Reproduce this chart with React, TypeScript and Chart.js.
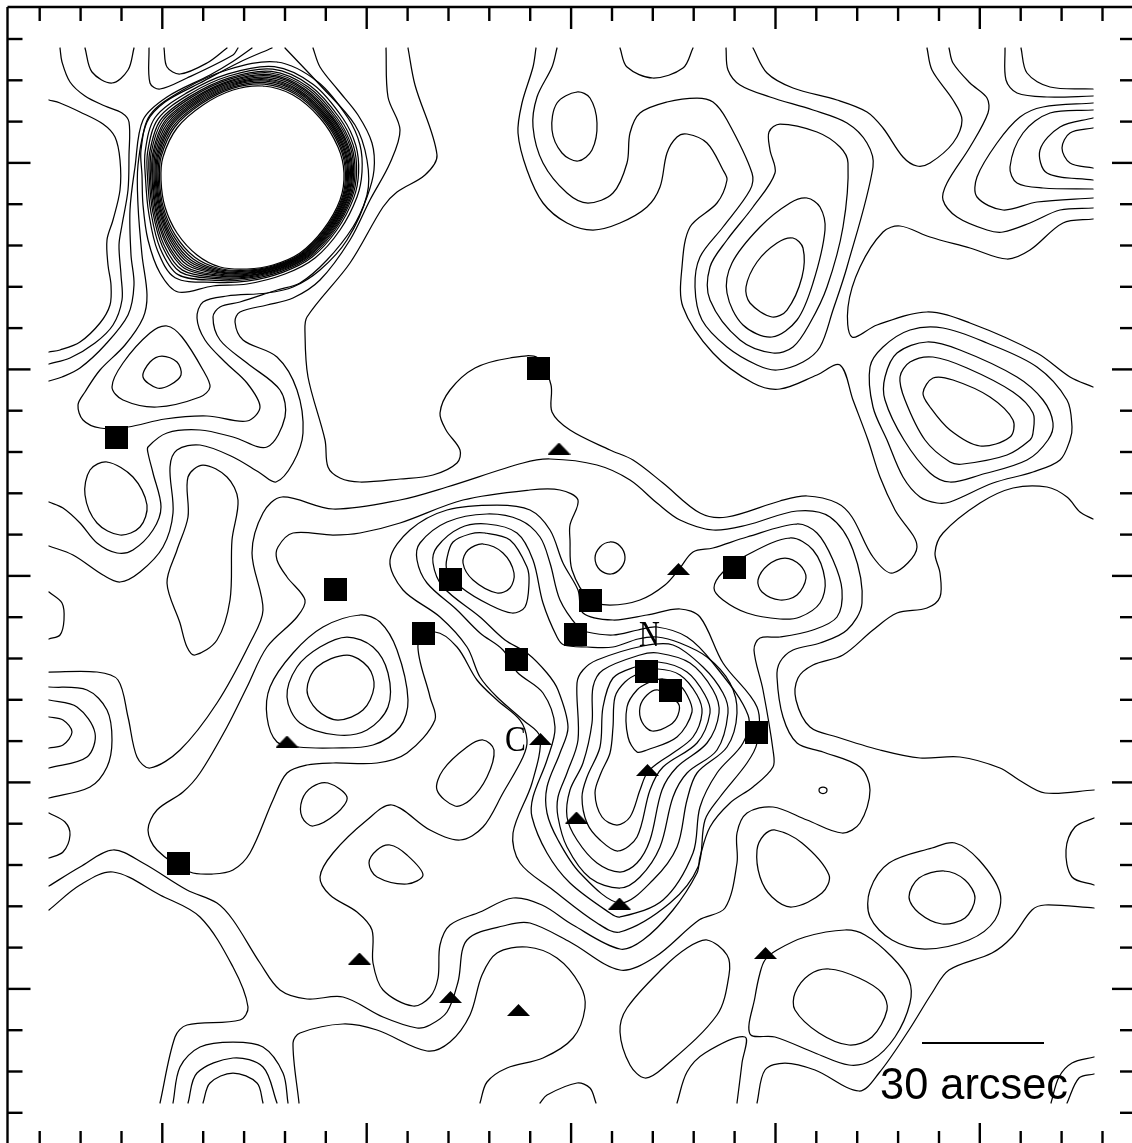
import React, { useEffect, useRef } from "react";
import { Chart, registerables } from "chart.js";

Chart.register(...registerables);

type P = [number, number];

const W = 1132;
const H = 1143;

// ----- axis ticks (values on the map axes) -----
const xTicks = [39.7,80.6,121.5,162.3,203.2,244.1,285,325.8,366.7,407.6,448.5,489.3,530.2,571.1,612,652.8,693.7,734.6,775.5,816.3,857.2,898.1,939,979.8,1020.7,1061.6,1102.5];
const xMajorTicks = [162.3,366.7,571.1,775.5,979.8];
const yTicks = [39,80.3,121.6,162.9,204.2,245.5,286.8,328.1,369.4,410.7,452,493.3,534.6,575.9,617.2,658.5,699.8,741.1,782.4,823.7,865,906.3,947.6,988.9,1030.2,1071.5,1112.8];
const yMajorTicks = [162.9,369.4,575.9,782.4,988.9];

// ----- sources -----
const squareSources: P[] = [[116.7,437.7],[538.5,368.7],[335,589.7],[450.3,579],[423.7,633],[516,659.7],[575,634],[590,600],[734.7,567.3],[646,671.3],[670.3,690.7],[756,732.7],[178.3,863.3]];
const triangleSources: P[] = [[559,448.5],[678.5,569],[287,741.5],[540.5,739],[647.5,770],[576.5,817.5],[619.5,903.5],[359.5,958.5],[450.5,997],[518.5,1010],[765.5,953]];
const scaleBar: P[] = [[922,1043],[1044,1043]];

// ----- open contours -----
const tlA: P[] = [[49,100],[60,103],[80,112],[103,124],[115,137],[120,160],[120,190],[113,220],[107,240],[108,265],[111,285],[110,305],[100,323],[80,342],[60,350],[49,352]];
const tlB: P[] = [[60,48],[62,62],[70,82],[85,96],[105,106],[122,113],[129,122],[129,155],[128,190],[122,225],[119,245],[121,275],[122,300],[113,325],[95,343],[70,358],[49,364]];
const tlC: P[] = [[252,48],[232,62],[210,75],[167,97],[143,120],[135,167],[130,210],[131,255],[134,285],[128,315],[105,345],[80,368],[62,377],[49,381]];
const arcTop1: P[] = [[85,48],[92,72],[112,83],[128,70],[134,48]];
const arcTop2: P[] = [[149,48],[150,83],[160,89],[187,78],[233,55],[238,48]];
const arcTop3: P[] = [[164,48],[167,67],[180,74],[207,63],[227,48]];
const s1: P[] = [[272,48],[240,62],[200,83],[165,102],[147,122],[138,165],[138,205],[142,255],[147,295],[143,318],[125,345],[100,370],[85,392],[78,405],[83,420],[100,428],[128,427],[165,419],[207,416],[247,421],[260,407],[247,383],[225,362],[205,340],[197,318],[203,302],[227,296],[267,293],[293,287],[320,270],[347,240],[367,195],[367,160],[355,125],[320,85],[285,48]];
const s2: P[] = [[313,48],[320,67],[338,90],[358,115],[372,143],[374,170],[367,197],[353,227],[327,260],[300,283],[277,290],[240,302],[220,307],[213,317],[220,340],[247,363],[280,390],[285,417],[267,447],[233,437],[200,430],[167,433],[148,447],[148,453],[153,473],[161,507],[153,530],[133,550],[117,553],[97,543],[80,523],[63,508],[49,502]];
const s3: P[] = [[386,48],[388,97],[400,130],[390,163],[370,200],[350,240],[320,280],[293,298],[267,305],[240,312],[235,322],[243,340],[277,357],[297,390],[303,433],[293,463],[276,482],[260,473],[233,457],[200,445],[177,450],[170,467],[173,513],[163,547],[140,572],[120,582],[103,575],[73,555],[49,546]];
const s4: P[] = [[408,48],[415,85],[437,155],[425,175],[397,192],[383,207],[350,263],[307,317],[305,333],[308,377],[325,440],[328,467],[340,478],[360,482],[400,479],[433,475],[457,463],[460,450],[446,430],[440,413],[450,390],[475,368],[510,358],[538,358],[551,385],[552,412],[570,430],[610,450],[633,460],[663,483],[700,513],[727,517],[780,501],[807,496],[837,503],[852,517],[873,557],[893,573],[917,547],[895,510],[880,477],[868,440],[853,400],[840,365],[817,375],[780,389],[753,383],[713,353],[683,307],[682,267],[690,227],[717,203],[727,180],[723,170],[707,143],[687,134],[677,137],[667,153],[660,187],[647,207],[620,223],[593,230],[567,223],[543,203],[527,170],[518,133],[522,103],[533,67],[536,48]];
const t2: P[] = [[557,48],[552,67],[537,97],[533,127],[543,163],[567,193],[588,203],[613,193],[627,163],[630,133],[640,113],[667,102],[697,98],[713,102],[727,120],[752,173],[750,190],[723,227],[700,257],[695,287],[702,320],[727,347],[757,365],[777,370],[803,362],[820,347],[833,310],[847,267],[873,167],[867,143],[847,123],[813,110],[770,97],[740,85],[728,70],[726,48]];
const t4: P[] = [[620,48],[627,67],[653,78],[683,68],[693,48]];
const ur1: P[] = [[753,48],[767,73],[793,88],[837,100],[867,112],[883,128],[903,157],[917,166],[930,163],[953,143],[962,120],[953,100],[932,70],[927,48]];
const ur2: P[] = [[949,48],[953,63],[970,83],[987,98],[988,113],[970,147],[947,183],[943,200],[957,217],[987,230],[1003,232],[1030,223],[1060,210],[1093,208]];
const ur3: P[] = [[1005,48],[1006,80],[1017,93],[1047,97],[1093,96]];
const ur4: P[] = [[1021,48],[1027,73],[1050,87],[1093,89]];
const ur5: P[] = [[1093,103],[1043,107],[1020,117],[997,143],[977,177],[977,197],[1003,210],[1037,202],[1093,198]];
const ur6: P[] = [[1093,110],[1050,113],[1023,133],[1010,167],[1017,183],[1043,188],[1093,189]];
const ur7: P[] = [[1093,118],[1060,127],[1040,150],[1047,173],[1093,180]];
const ur8: P[] = [[1093,128],[1070,133],[1062,148],[1070,163],[1093,168]];
const ur9: P[] = [[1093,219],[1063,223],[1030,250],[1007,259],[970,248],[930,237],[900,226],[883,232],[860,267],[848,307],[852,337],[877,325],[927,312],[970,323],[1037,353],[1070,377],[1093,387]];
const rightEdge: P[] = [[1093,519],[1080,512],[1067,497],[1047,487],[1013,488],[980,503],[943,533],[935,553],[940,573],[940,597],[927,608],[897,613],[873,630],[843,655],[813,665],[798,678],[796,700],[810,727],[837,737],[880,750],[920,758],[960,757],[1000,768],[1019,780],[1045,793],[1094,790]];
const lineB: P[] = [[49,672],[97,672],[118,680],[128,717],[137,757],[150,768],[180,750],[217,703],[250,643],[263,610],[252,553],[263,513],[282,497],[333,509],[400,500],[447,487],[523,463],[550,459],[597,465],[630,480],[657,503],[680,520],[713,530],[747,525],[797,511],[830,517],[853,550],[862,603],[847,630],[820,643],[793,650],[780,662],[777,677],[783,717],[797,743],[823,752],[860,767],[870,790],[860,823],[842,833],[807,820],[773,807],[747,813],[737,833],[737,863],[725,908],[699,920],[655,957],[620,970],[570,942],[530,923],[507,925],[467,940],[458,982],[447,1012],[430,1025],[417,1028],[383,1017],[343,997],[307,999],[280,990],[260,963],[233,920],[217,903],[187,890],[143,863],[113,850],[80,867],[49,886]];
const lineW0: P[] = [[49,910],[80,885],[113,872],[160,895],[200,917],[233,967],[248,1007],[240,1020],[187,1025],[175,1037],[160,1103]];
const lineW4: P[] = [[299,1103],[293,1043],[300,1033],[343,1024],[377,1030],[427,1051],[450,1042],[470,1015],[482,975],[497,953],[527,947],[557,958],[580,985],[585,1008],[573,1038],[543,1058],[507,1068],[487,1082],[480,1103]];
const w1: P[] = [[173,1103],[180,1067],[200,1047],[233,1042],[263,1047],[283,1073],[288,1103]];
const w2: P[] = [[188,1103],[197,1073],[233,1058],[263,1067],[277,1103]];
const w3: P[] = [[203,1103],[210,1083],[233,1073],[257,1083],[263,1103]];
const arcBot: P[] = [[540,1103],[547,1095],[577,1083],[590,1088],[596,1103]];
const brCorner: P[] = [[677,1103],[687,1072],[705,1053],[745,1037],[742,1063],[737,1103]];
const brLine: P[] = [[757,1103],[765,1070],[785,1063],[815,1070],[859,1091],[879,1073],[909,1030],[932,993],[949,970],[992,953],[1012,937],[1032,910],[1045,905],[1094,908]];
const arcRight: P[] = [[1094,818],[1075,827],[1066,850],[1072,877],[1094,885]];
const cornerA: P[] = [[1094,1057],[1072,1063],[1059,1077],[1051,1103]];
const cornerB: P[] = [[1094,1074],[1079,1078],[1067,1103]];
const n1: P[] = [[49,687],[87,690],[107,710],[112,740],[107,767],[90,787],[49,798]];
const n2: P[] = [[49,700],[77,707],[95,733],[87,757],[49,768]];
const n3: P[] = [[49,717],[63,720],[72,732],[63,745],[49,748]];
const arcLeft1: P[] = [[49,592],[62,603],[64,620],[60,635],[49,639]];
const arcLeft2: P[] = [[49,813],[65,822],[70,835],[63,852],[49,858]];

// ----- closed contours -----
const ringOuter: P[] = [[277,62],[318,82],[348,118],[360,145],[362,172],[357,197],[340,230],[315,258],[285,274],[247,284],[213,286],[178,292],[160,273],[148,240],[143,205],[142,175],[141,150],[150,115],[183,90],[227,70]];
const ring81: P[] = [[274.3,66.6],[313.3,84.5],[342.7,118],[355.8,145.4],[358.6,172.2],[353.8,197.6],[336.8,230],[312.2,257],[282.7,272.3],[247,281.2],[214.3,282.4],[175.1,277.7],[157.6,250.8],[148.8,213.5],[145.6,180],[145.2,151.3],[155.1,117.5],[186.8,92.9],[228.1,73.8]];
const ring70: P[] = [[272.8,69.2],[310.5,85.9],[339.6,118],[353.4,145.6],[356.6,172.3],[351.9,197.9],[334.9,230],[310.5,256.5],[281.4,271.3],[247,279.5],[215.1,280.3],[178.1,274.6],[160.2,248.4],[151,212.6],[147.7,180],[147.6,152.1],[158.1,118.9],[189,94.5],[228.8,76]];
const ring61: P[] = [[271.5,71.4],[308.3,87.1],[337.1,118],[351.4,145.8],[355,172.4],[350.4,198.2],[333.4,230],[309.2,256],[280.3,270.5],[247,278.2],[215.7,278.6],[180.5,272.1],[162.4,246.4],[152.8,211.9],[149.4,180],[149.6,152.7],[160.5,120.1],[190.8,95.9],[229.3,77.8]];
const ring54: P[] = [[270.6,73],[306.5,88],[335.1,118],[349.9,145.9],[353.7,172.5],[349.2,198.4],[332.2,230],[308.1,255.7],[279.5,269.9],[247,277.1],[216.2,277.3],[182.4,270.1],[164,244.9],[154.2,211.3],[150.7,180],[151.1,153.2],[162.4,121],[192.2,96.9],[229.8,79.2]];
const ring47: P[] = [[269.6,74.7],[304.8,88.9],[333.2,118],[348.3,146.1],[352.5,172.5],[348,198.6],[331,230],[307,255.4],[278.6,269.2],[247,276.1],[216.7,275.9],[184.3,268.2],[165.7,243.3],[155.6,210.8],[152.1,180],[152.7,153.7],[164.3,121.9],[193.6,98],[230.2,80.6]];
const ring42: P[] = [[268.9,75.9],[303.5,89.5],[331.8,118],[347.2,146.2],[351.6,172.6],[347.1,198.7],[330.1,230],[306.3,255.1],[278,268.8],[247,275.3],[217.1,275],[185.7,266.8],[166.9,242.2],[156.6,210.4],[153,180],[153.8,154.1],[165.7,122.5],[194.6,98.7],[230.5,81.6]];
const ring36: P[] = [[268,77.4],[302,90.3],[330.1,118],[345.9,146.3],[350.5,172.6],[346.1,198.9],[329.1,230],[305.4,254.8],[277.3,268.2],[247,274.4],[217.5,273.8],[187.3,265.1],[168.4,240.9],[157.8,209.9],[154.2,180],[155.1,154.5],[167.3,123.3],[195.8,99.6],[230.8,82.8]];
const ring30: P[] = [[267.2,78.8],[300.5,91.1],[328.4,118],[344.6,146.4],[349.4,172.7],[345.1,199.1],[328.1,230],[304.5,254.5],[276.6,267.7],[247,273.5],[217.9,272.7],[188.9,263.4],[169.8,239.6],[159,209.4],[155.3,180],[156.4,154.9],[168.9,124.1],[197,100.5],[231.2,84]];
const ring25: P[] = [[266.5,80],[299.3,91.8],[327,118],[343.5,146.5],[348.5,172.8],[344.3,199.3],[327.3,230],[303.8,254.3],[276,267.3],[247,272.8],[218.3,271.8],[190.3,262],[171,238.5],[160,209],[156.3,180],[157.5,155.3],[170.3,124.8],[198,101.3],[231.5,85]];
const ring20: P[] = [[265.8,81.2],[298,92.4],[325.6,118],[342.4,146.6],[347.6,172.8],[343.4,199.4],[326.4,230],[303,254],[275.4,266.8],[247,272],[218.6,270.8],[191.6,260.6],[172.2,237.4],[161,208.6],[157.2,180],[158.6,155.6],[171.6,125.4],[199,102],[231.8,86]];
const ring14: P[] = [[265,82.6],[296.5,93.2],[323.9,118],[341.1,146.7],[346.5,172.9],[342.4,199.6],[325.4,230],[302.1,253.7],[274.7,266.3],[247,271.1],[219,269.7],[193.2,258.9],[173.6,236.1],[162.2,208.1],[158.3,180],[159.9,156],[173.2,126.2],[200.2,102.9],[232.2,87.2]];
const ring08: P[] = [[264.1,84.1],[295,94],[322.2,118],[339.8,146.8],[345.4,172.9],[341.4,199.8],[324.4,230],[301.2,253.4],[274,265.7],[247,270.2],[219.4,268.5],[194.8,257.2],[175.1,234.8],[163.4,207.6],[159.5,180],[161.2,156.4],[174.8,127],[201.4,103.8],[232.5,88.4]];
const ringInner: P[] = [[263,86],[293,95],[320,118],[338,147],[344,173],[340,200],[323,230],[300,253],[273,265],[247,269],[220,267],[197,255],[177,233],[165,207],[161,180],[163,157],[177,128],[203,105],[233,90]];
const lobeP1: P[] = [[167,326],[182,337],[203,370],[210,387],[200,397],[157,407],[123,400],[112,387],[123,363],[150,333]];
const lobeP2: P[] = [[162,356],[177,362],[181,375],[170,385],[157,388],[143,377],[150,362]];
const t3: P[] = [[577,92],[590,98],[597,123],[592,150],[578,161],[562,153],[552,130],[557,103]];
const m1: P[] = [[780,124],[817,132],[840,147],[848,163],[843,227],[827,287],[810,323],[793,347],[773,353],[740,340],[710,300],[710,267],[727,240],[753,207],[775,173],[770,150],[769,132]];
const m2: P[] = [[807,198],[820,207],[825,230],[813,283],[797,320],[772,337],[743,325],[727,293],[732,263],[760,227],[790,203]];
const m3: P[] = [[793,238],[803,248],[802,277],[787,310],[772,317],[750,303],[746,287],[757,262],[777,243]];
const rb1: P[] = [[870,367],[883,347],[910,330],[943,328],[987,343],[1037,367],[1067,400],[1072,427],[1070,440],[1060,460],[1033,472],[993,483],[950,502],[937,503],[920,497],[903,477],[887,440],[873,407]];
const rb2: P[] = [[885,377],[897,353],[927,342],[960,350],[1017,377],[1043,400],[1053,423],[1048,440],[1027,460],[980,475],[950,482],[930,473],[904,440],[885,400]];
const rb3: P[] = [[900,377],[910,362],[933,357],[967,368],[1013,392],[1033,413],[1033,433],[1030,440],[1007,455],[963,464],[950,462],[925,440],[905,400]];
const rb4: P[] = [[923,393],[933,378],[953,380],[990,397],[1013,420],[1010,437],[980,446],[950,430],[930,407]];
const sideOval: P[] = [[107,462],[133,477],[147,505],[140,527],[120,535],[97,523],[85,495],[90,470]];
const sideLong: P[] = [[203,465],[227,477],[238,500],[232,540],[230,600],[217,640],[195,655],[187,647],[180,623],[167,583],[177,550],[188,517],[188,477]];
const g1: P[] = [[360,615],[380,622],[397,650],[408,700],[400,727],[373,745],[333,748],[298,747],[277,742],[267,717],[270,687],[293,653],[323,627]];
const g2: P[] = [[347,637],[373,647],[388,673],[388,707],[367,730],[337,735],[300,723],[287,697],[297,667],[320,647]];
const g3: P[] = [[347,655],[368,667],[374,687],[363,710],[338,720],[317,710],[307,690],[317,667]];
const lineC: P[] = [[797,524],[817,533],[833,560],[842,590],[837,617],[813,630],[780,637],[760,638],[754,650],[763,690],[773,750],[773,767],[753,787],[730,803],[710,827],[700,857],[697,873],[673,910],[643,940],[620,949],[573,925],[542,905],[513,898],[480,912],[450,925],[440,945],[438,978],[430,997],[413,1006],[383,990],[373,963],[372,930],[357,912],[330,895],[320,877],[333,853],[367,820],[392,805],[430,830],[460,840],[483,827],[503,793],[523,757],[527,740],[520,720],[497,700],[477,680],[457,647],[435,632],[418,644],[430,697],[435,720],[407,753],[377,763],[333,763],[307,765],[287,773],[273,800],[250,853],[233,870],[213,874],[190,872],[157,850],[148,830],[157,810],[183,792],[200,773],[227,727],[247,687],[267,647],[297,617],[305,600],[287,577],[277,560],[278,547],[293,533],[333,535],[360,533],[400,523],[463,500],[530,490],[560,490],[578,500],[570,525],[570,540],[572,570],[590,600],[610,605],[640,600],[665,585],[680,568],[693,552],[713,548],[747,537]];
const q0: P[] = [[483,544],[503,553],[514,573],[510,588],[497,593],[473,580],[463,563],[468,550]];
const q1: P[] = [[485,533],[510,540],[527,567],[529,583],[525,607],[512,613],[490,605],[462,588],[447,570],[447,558],[453,542],[470,534]];
const l5: P[] = [[620,903],[653,880],[677,847],[687,800],[697,773],[727,747],[737,713],[730,683],[707,657],[680,643],[657,637],[638,639],[613,647],[587,647],[564,645],[557,637],[543,603],[533,560],[517,533],[487,524],[460,528],[437,547],[433,563],[443,587],[480,617],[505,640],[527,653],[547,673],[558,690],[568,727],[560,753],[547,787],[547,813],[558,840],[580,873]];
const l6: P[] = [[620,917],[663,900],[693,853],[700,807],[717,773],[743,743],[748,715],[713,663],[687,637],[657,627],[638,630],[613,635],[587,632],[578,627],[560,600],[550,563],[540,537],[520,520],[487,514],[447,522],[420,543],[417,560],[427,583],[457,610],[480,633],[503,650],[517,672],[543,693],[555,727],[547,760],[533,797],[532,817],[547,853],[570,883],[610,913]];
const l7: P[] = [[620,932],[670,903],[698,867],[705,820],[720,797],[747,763],[757,743],[757,707],[723,663],[700,617],[680,609],[647,615],[613,620],[583,613],[578,590],[563,563],[550,530],[530,510],[497,505],[447,510],[410,530],[390,560],[403,590],[440,617],[467,647],[480,677],[497,697],[523,720],[540,737],[532,783],[513,833],[520,863],[553,890],[597,923]];
const u4: P[] = [[620,888],[590,878],[567,847],[558,817],[558,797],[567,773],[578,740],[577,683],[583,670],[597,660],[643,646],[673,645],[703,667],[723,693],[728,713],[717,750],[687,773],[673,797],[660,847],[640,877]];
const u3: P[] = [[620,872],[597,863],[577,840],[567,817],[570,790],[583,763],[592,723],[593,687],[603,670],[640,655],[658,653],[690,663],[713,690],[719,713],[707,743],[677,767],[662,790],[650,840],[637,863]];
const u2: P[] = [[618,851],[600,840],[587,823],[582,797],[587,777],[600,747],[603,707],[613,678],[635,667],[658,662],[687,672],[705,695],[710,713],[697,743],[663,767],[650,790],[637,837]];
const u1: P[] = [[617,825],[602,817],[595,793],[601,773],[610,753],[613,727],[615,697],[625,682],[640,673],[658,669],[680,675],[697,695],[702,713],[693,737],[673,753],[658,763],[647,773],[640,790],[630,817]];
const r1: P[] = [[650,682],[637,690],[627,707],[628,737],[637,752],[647,750],[677,737],[692,712],[687,695],[677,683],[663,679]];
const r0: P[] = [[658,690],[678,703],[678,715],[670,725],[652,731],[642,722],[640,707],[647,695]];
const d: P[] = [[790,538],[813,550],[825,580],[820,603],[800,617],[780,619],[747,613],[723,600],[714,588],[723,572],[747,555]];
const e: P[] = [[785,558],[800,565],[806,578],[797,595],[780,600],[762,592],[758,580],[768,565]];
const blobA: P[] = [[483,740],[494,750],[487,777],[470,800],[455,806],[437,790],[443,770],[467,747]];
const blobB: P[] = [[328,783],[347,797],[337,813],[313,826],[302,817],[302,800],[312,787]];
const blobC: P[] = [[390,845],[407,855],[423,875],[407,884],[377,877],[369,863],[377,850]];
const circleS: P[] = [[610,542],[620,546],[625,557],[621,568],[611,574],[600,570],[595,558],[600,547]];
const ovalTiny: P[] = [[823,787],[826,788],[827,790],[826,792.5],[823,793.5],[820,792.5],[819,790],[820,788]];
const brBlob: P[] = [[707,940],[727,955],[729,975],[717,1015],[663,1068],[645,1078],[630,1065],[620,1032],[627,1008],[663,968],[687,948]];
const brRing: P[] = [[765,960],[777,950],[805,937],[845,930],[865,935],[892,957],[909,980],[910,1003],[895,1037],[872,1060],[849,1065],[815,1053],[775,1037],[750,1034],[755,997],[760,973]];
const brInner: P[] = [[829,969],[859,978],[882,993],[887,1010],[872,1037],[849,1045],[819,1033],[795,1010],[795,993],[809,975]];
const rBlob: P[] = [[775,830],[802,843],[829,875],[822,893],[792,907],[772,897],[760,877],[757,850],[764,835]];
const fBlob: P[] = [[955,843],[979,860],[1000,893],[995,920],[969,940],[925,949],[892,940],[870,917],[870,890],[889,863],[932,848]];
const fInner: P[] = [[944,871],[965,880],[975,898],[965,918],[942,924],[919,913],[909,897],[919,878]];

const openContours: P[][] = [tlA,tlB,tlC,arcTop1,arcTop2,arcTop3,s1,s2,s3,s4,t2,t4,ur1,ur2,ur3,ur4,ur5,ur6,ur7,ur8,ur9,rightEdge,lineB,lineW0,lineW4,w1,w2,w3,arcBot,brCorner,brLine,arcRight,cornerA,cornerB,n1,n2,n3,arcLeft1,arcLeft2];
const closedContours: P[][] = [ringOuter,ring81,ring70,ring61,ring54,ring47,ring42,ring36,ring30,ring25,ring20,ring14,ring08,ringInner,lobeP1,lobeP2,t3,m1,m2,m3,rb1,rb2,rb3,rb4,sideOval,sideLong,g1,g2,g3,lineC,q0,q1,l5,l6,l7,u4,u3,u2,u1,r1,r0,d,e,blobA,blobB,blobC,circleS,ovalTiny,brBlob,brRing,brInner,rBlob,fBlob,fInner];

// ----- text -----
const mapLabels = [
  { text: "N", x: 649.5, y: 646, font: '36px "Liberation Serif"', stretch: 0.8 },
  { text: "C", x: 515.5, y: 751, font: '36px "Liberation Serif"', stretch: 0.87 },
  { text: "30 arcsec", x: 974, y: 1099, font: '44px "Liberation Sans"', stretch: 0.985 },
];

const toXY = (pts: P[]) => pts.map(([x, y]) => ({ x, y }));

function markerImage(kind: "square" | "triangle") {
  const c = document.createElement("canvas");
  c.width = 23;
  c.height = kind === "square" ? 23 : 12;
  const g = c.getContext("2d")!;
  g.fillStyle = "#000";
  if (kind === "square") {
    g.fillRect(0, 0, 23, 23);
  } else {
    g.beginPath();
    g.moveTo(0, 12);
    g.lineTo(11.5, 0);
    g.lineTo(23, 12);
    g.closePath();
    g.fill();
  }
  return c;
}

const frameAndText = {
  id: "frameAndText",
  afterDraw(chart: any) {
    const { ctx, scales } = chart;
    const sx = scales.x;
    const sy = scales.y;
    ctx.save();
    ctx.strokeStyle = "#000";
    ctx.lineWidth = 2.4;
    ctx.lineCap = "butt";
    const seg = (a: number, b: number, c: number, e: number) => {
      ctx.beginPath();
      ctx.moveTo(a, b);
      ctx.lineTo(c, e);
      ctx.stroke();
    };
    const left = sx.getPixelForValue(7.5);
    const top = sy.getPixelForValue(7);
    const right = sx.getPixelForValue(W);
    const bottom = sy.getPixelForValue(H);
    seg(left, top, right, top);
    seg(left, top, left, bottom);
    xTicks.forEach((t) => {
      const p = sx.getPixelForValue(t);
      const len = xMajorTicks.includes(t) ? 22 : 14;
      seg(p, top, p, top + len);
      seg(p, bottom, p, bottom - (len - 2));
    });
    yTicks.forEach((t) => {
      const p = sy.getPixelForValue(t);
      const len = yMajorTicks.includes(t) ? 23 : 15;
      seg(left, p, left + len, p);
      seg(right, p, right - (len - 3), p);
    });
    ctx.fillStyle = "#000";
    ctx.textAlign = "center";
    ctx.textBaseline = "alphabetic";
    mapLabels.forEach((l) => {
      ctx.save();
      ctx.translate(sx.getPixelForValue(l.x), sy.getPixelForValue(l.y));
      ctx.scale(l.stretch, 1);
      ctx.font = l.font;
      ctx.fillText(l.text, 0, 0);
      ctx.restore();
    });
    ctx.restore();
  },
};

export default function App() {
  const ref = useRef<HTMLCanvasElement>(null);
  useEffect(() => {
    const base = {
      showLine: true,
      borderColor: "#000",
      borderWidth: 1.25,
      pointRadius: 0,
      tension: 0.33,
      capBezierPoints: false,
      borderCapStyle: "round",
      borderJoinStyle: "round",
      order: 2,
    };
    const openSets = openContours.map((pts) => ({ ...base, data: toXY(pts) }));
    const closedSets = closedContours.map((pts) => {
      const n = pts.length;
      const data = toXY([pts[n - 1], ...pts, pts[0], pts[1]]);
      return {
        ...base,
        data,
        segment: {
          borderColor: (c: any) =>
            c.p0DataIndex === 0 || c.p1DataIndex === data.length - 1 ? "rgba(0,0,0,0)" : "#000",
        },
      };
    });
    const chart = new Chart(ref.current!, {
      type: "scatter",
      data: {
        datasets: [
          ...openSets,
          ...closedSets,
          { showLine: true, borderColor: "#000", borderWidth: 2, pointRadius: 0, order: 2, data: toXY(scaleBar) },
          { data: toXY(squareSources), pointStyle: markerImage("square"), pointRadius: 8, order: 1, showLine: false },
          { data: toXY(triangleSources), pointStyle: markerImage("triangle"), pointRadius: 8, order: 1, showLine: false },
        ] as any,
      },
      options: {
        animation: false,
        responsive: false,
        devicePixelRatio: 1,
        layout: { padding: 0, autoPadding: false },
        plugins: { legend: { display: false }, tooltip: { enabled: false } },
        events: [],
        scales: {
          x: { type: "linear", min: 0, max: W, display: false },
          y: { type: "linear", min: 0, max: H, reverse: true, display: false },
        },
      },
      plugins: [frameAndText],
    });
    return () => chart.destroy();
  }, []);
  return (
    <div style={{ position: "fixed", left: 0, top: 0, width: W, height: H, background: "#fff", overflow: "hidden" }}>
      <canvas ref={ref} width={W} height={H} style={{ display: "block" }} />
    </div>
  );
}
